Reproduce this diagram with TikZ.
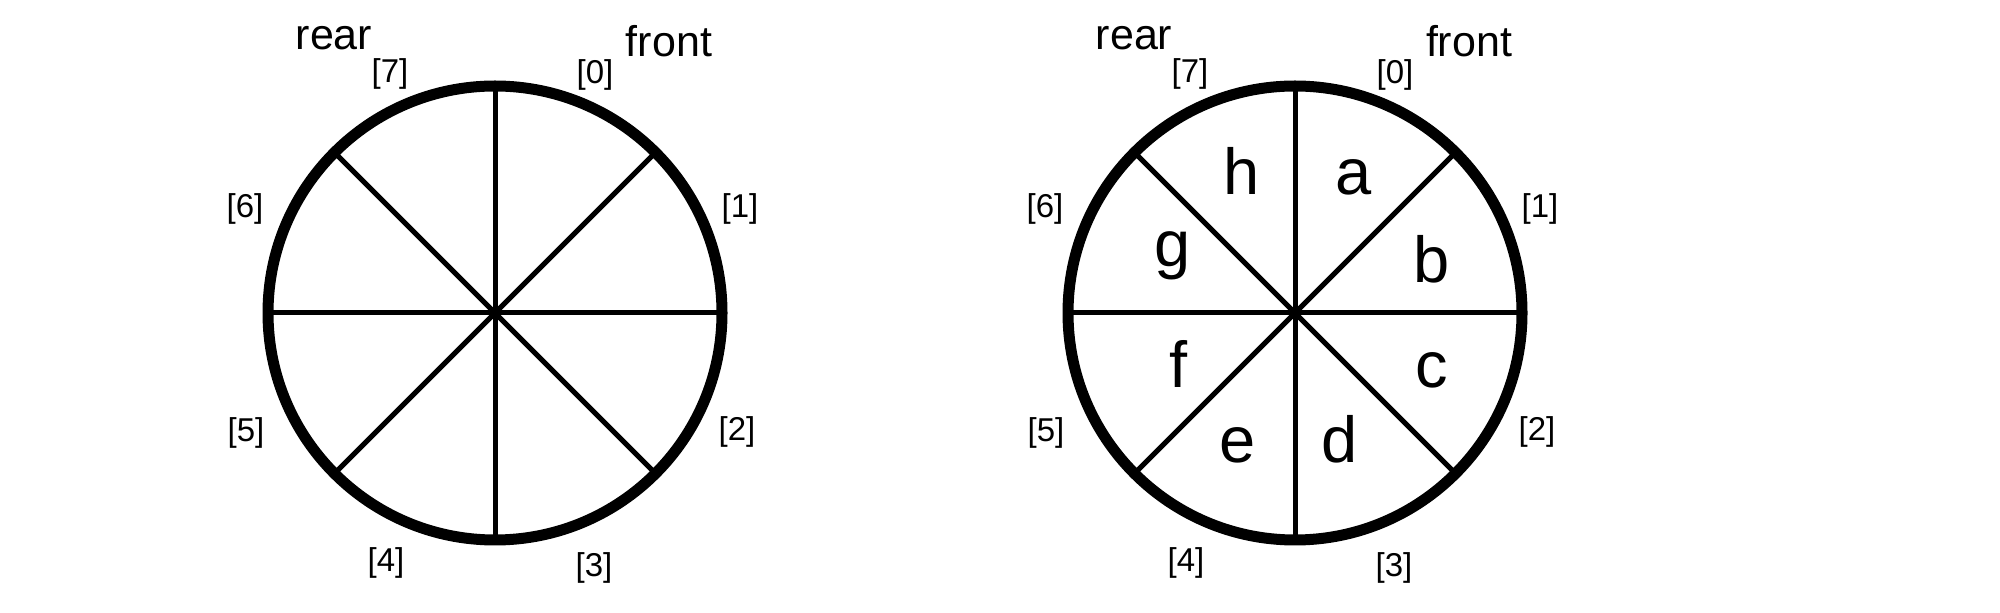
\documentclass[tikz,border=0pt]{standalone}
\usepackage{fontspec}
\setmainfont{Liberation Sans}
\begin{document}
\begin{tikzpicture}[x=0.5pt,y=-0.5pt,
  rim/.style={line width=5.5pt},
  spoke/.style={line width=2.5pt},
  idx/.style={inner sep=0pt,anchor=base,font=\fontsize{16.5pt}{18pt}\selectfont},
  endlbl/.style={inner sep=0pt,anchor=base,font=\fontsize{21.5pt}{23pt}\selectfont},
  cell/.style={inner sep=0pt,anchor=base,font=\fontsize{32.5pt}{34pt}\selectfont}]
\useasboundingbox (0,0) rectangle (2000,613);
\foreach \cx/\p in {495/L,1295/R}{
  \coordinate (c\p) at (\cx,313);
  \foreach \a in {0,45,...,315}{
    \draw[spoke] (c\p) -- ++(\a:227);
  }
  \draw[rim] (c\p) circle[radius=227];
  \node[endlbl] (rear\p) at (\cx-161,50) {rear};
  \node[endlbl] (front\p) at (\cx+174,57) {front};
  \node[idx] (i7\p) at (\cx-105,83) {[7]};
  \node[idx] (i0\p) at (\cx+100,84) {[0]};
  \node[idx] (i1\p) at (\cx+245,218) {[1]};
  \node[idx] (i6\p) at (\cx-250,218) {[6]};
  \node[idx] (i2\p) at (\cx+242,441) {[2]};
  \node[idx] (i5\p) at (\cx-249,442) {[5]};
  \node[idx] (i4\p) at (\cx-109,572) {[4]};
  \node[idx] (i3\p) at (\cx+99,576) {[3]};
}
\node[cell] (la) at (1354,195) {a};
\node[cell] (lh) at (1242,195) {h};
\node[cell] (lb) at (1432,283) {b};
\node[cell] (lg) at (1173,267) {g};
\node[cell] (lc) at (1432,388) {c};
\node[cell] (lf) at (1179,388) {f};
\node[cell] (le) at (1238,463) {e};
\node[cell] (ld) at (1340,463) {d};
\end{tikzpicture}
\end{document}
